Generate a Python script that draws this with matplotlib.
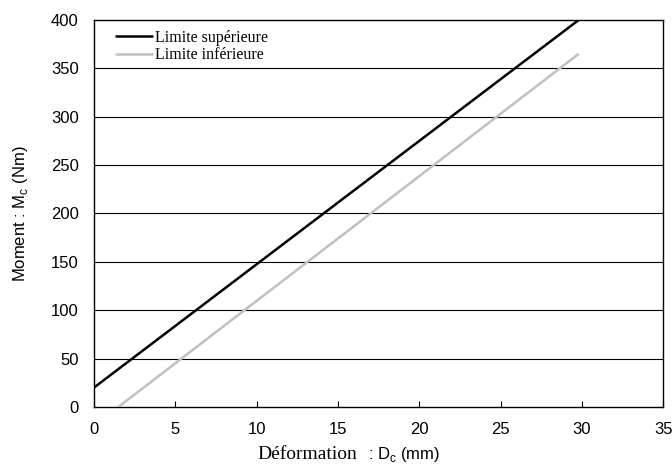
import numpy as np
import matplotlib
matplotlib.use('Agg')
import matplotlib.pyplot as plt

# lines (deformation mm, moment Nm)
x_sup = [0.0, 29.8]
y_sup = [20, 400]
x_inf = [1.5, 29.8]
y_inf = [0, 365]

xticks = [0, 5, 10, 15, 20, 25, 30, 35]
yticks = [0, 50, 100, 150, 200, 250, 300, 350, 400]

plt.rcParams['font.family'] = ['Liberation Sans', 'DejaVu Sans']

fig = plt.figure(figsize=(6.72, 4.65), dpi=100)
ax = fig.add_axes([0.140, 0.125, 0.847, 0.832])

for y in yticks[1:-1]:
    ax.axhline(y, color='black', lw=0.8, zorder=1)

ax.plot(x_sup, y_sup, color='black', lw=1.8, label='Limite supérieure', zorder=3, solid_capstyle='butt')
ax.plot(x_inf, y_inf, color='#c0c0c0', lw=1.8, label='Limite inférieure', zorder=3, solid_capstyle='butt')

ax.set_xlim(0, 35)
ax.set_ylim(0, 400)
ax.set_xticks(xticks)
ax.set_yticks(yticks)
ax.tick_params(axis='x', direction='in', length=4, width=0.8, labelsize=12, pad=11)
ax.tick_params(axis='y', length=0, labelsize=12, pad=11)
for s in ax.spines.values():
    s.set_linewidth(1.0)

ax.set_ylabel('Moment : M$_\\mathregular{c}$ (Nm)', fontsize=12, labelpad=15)
fig.text(0.531, 0.013, 'Déformation', family='Liberation Serif', fontsize=14, ha='right', va='baseline')
fig.text(0.548, 0.013, ': D$_\\mathregular{c}$ (mm)', fontsize=12, ha='left', va='baseline')

leg = ax.legend(loc='upper left', frameon=False, prop={'family': 'Liberation Serif', 'size': 11.5},
                handlelength=2.4, handletextpad=0.1, labelspacing=0.12,
                borderaxespad=0.2, bbox_to_anchor=(0.02, 1.0))

plt.savefig('out.png', dpi=100)
